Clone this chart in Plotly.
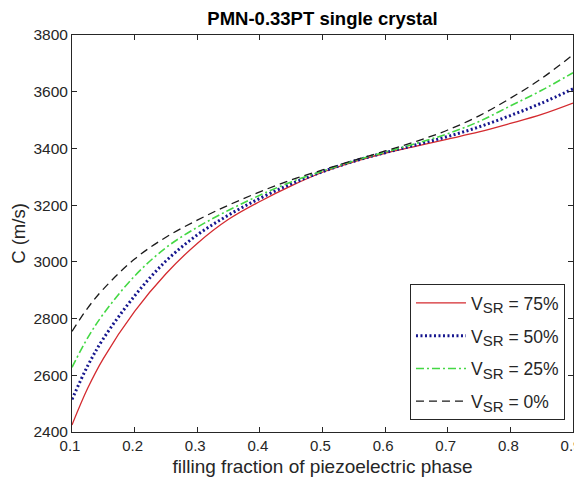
import plotly.graph_objects as go

x = [0.1, 0.125, 0.15, 0.2, 0.25, 0.3, 0.35, 0.4, 0.45, 0.5, 0.55, 0.6, 0.65, 0.7, 0.75, 0.8, 0.85, 0.9]
v75 = [2425, 2554, 2659, 2825, 2958, 3065, 3150, 3213, 3268, 3316, 3353, 3383, 3408, 3433, 3458, 3488, 3520, 3560]
v50 = [2515, 2633, 2729, 2880, 3003, 3095, 3165, 3224, 3275, 3318, 3355, 3385, 3413, 3442, 3476, 3516, 3560, 3610]
v25 = [2628, 2732, 2816, 2950, 3050, 3122, 3182, 3235, 3282, 3320, 3356, 3387, 3418, 3452, 3495, 3550, 3605, 3667]
v0 = [2755, 2837, 2904, 3010, 3087, 3147, 3200, 3247, 3289, 3324, 3358, 3391, 3425, 3465, 3515, 3577, 3647, 3730]

names = [
    "V<sub><span style='font-size:15px'>SR</span></sub> = 75%",
    "V<sub><span style='font-size:15px'>SR</span></sub> = 50%",
    "V<sub><span style='font-size:15px'>SR</span></sub> = 25%",
    "V<sub><span style='font-size:15px'>SR</span></sub> = 0%",
]
series = [v75, v50, v25, v0]
styles = [
    dict(color="#d42a2f", width=1.3, dash="solid"),
    dict(color="#16168e", width=3, dash="2px,2.5px"),
    dict(color="#44d844", width=1.6, dash="8px,3px,2px,3px"),
    dict(color="#1a1a1a", width=1.3, dash="8px,5px"),
]

xticks = [0.1, 0.2, 0.3, 0.4, 0.5, 0.6, 0.7, 0.8, 0.9]
yticks = [2400, 2600, 2800, 3000, 3200, 3400, 3600, 3800]

FONT = "Liberation Sans, Arial, sans-serif"

fig = go.Figure()
for i, (n, s, st) in enumerate(zip(names, series, styles)):
    fig.add_trace(go.Scatter(x=x, y=s, mode="lines", name=n, legendgroup=f"g{i}",
                             line=dict(shape="spline", smoothing=1.0, **st)))

axis_common = dict(
    showline=True, linecolor="#262626", linewidth=1, mirror="ticks",
    ticks="inside", ticklen=5, tickcolor="#262626", showgrid=False, zeroline=False,
    automargin=False,
)

# the page body adds an 8px offset; figure is sized so the plot lands where the reference has it
fig.update_layout(
    width=574, height=470,
    margin=dict(l=64, r=9, t=27, b=46),
    paper_bgcolor="white", plot_bgcolor="white",
    title=dict(text="<b>PMN-0.33PT single crystal</b>", x=(64 + 565) / 2 / 574, xanchor="center",
               y=1 - 11 / 470, yanchor="middle", automargin=False,
               font=dict(family=FONT, size=18.5, color="black")),
    xaxis=dict(range=[0.1, 0.9], tickvals=xticks, ticktext=[f"{t:.1f}" for t in xticks],
               ticklabeloverflow="allow", ticklabelshift=-2,
               tickfont=dict(family=FONT, size=15, color="#262626"),
               title=dict(text="filling fraction of piezoelectric phase", standoff=6,
                          font=dict(family=FONT, size=19, color="#262626")),
               **axis_common),
    yaxis=dict(range=[2400, 3800], tickvals=yticks, ticktext=[str(t) for t in yticks],
               ticklabeloverflow="allow",
               tickfont=dict(family=FONT, size=15.5, color="#262626"),
               title=dict(text="C (m/s)", standoff=8,
                          font=dict(family=FONT, size=18.5, color="#262626")),
               **axis_common),
    legend=dict(x=0.984, y=0.03, xanchor="right", yanchor="bottom",
                bordercolor="#262626", borderwidth=1, bgcolor="white",
                font=dict(family=FONT, size=17.5, color="#262626"),
                tracegroupgap=7, itemwidth=50),
    showlegend=True,
)

fig.write_html("out.html")
